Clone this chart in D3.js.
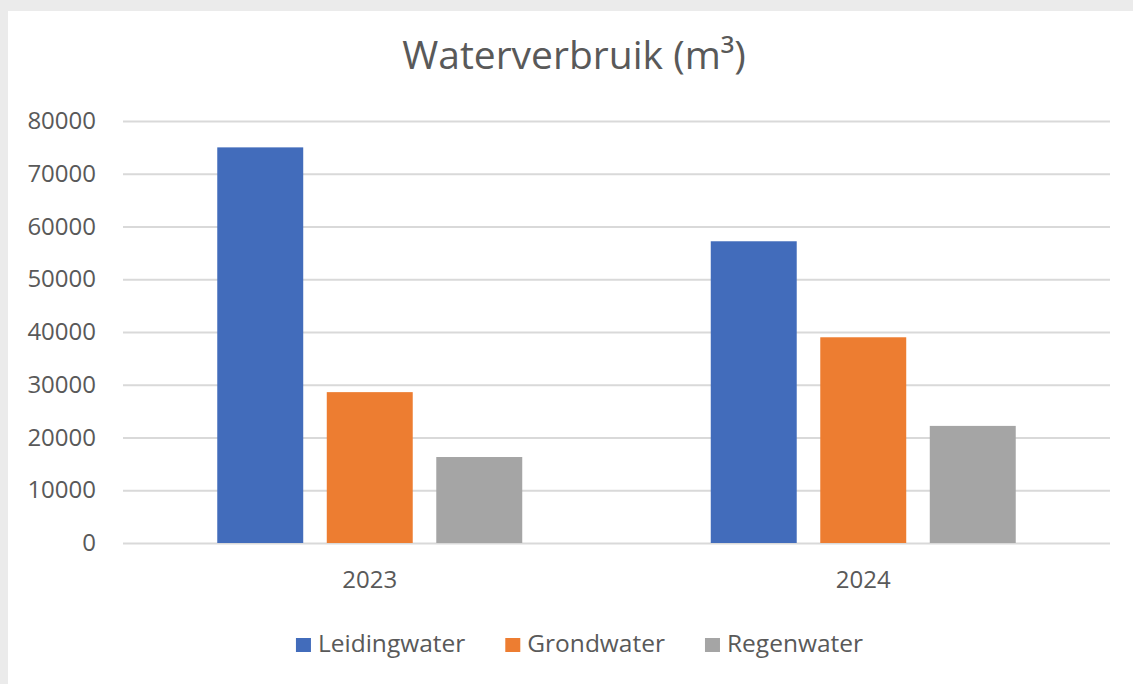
<!DOCTYPE html>
<html>
<head>
<meta charset="utf-8">
<script src="https://cdn.jsdelivr.net/npm/d3@7"></script>
<style>
  body { margin: 0; background: #ebebeb; }
  svg { display: block; }
  text { font-family: "Open Sans", "Noto Sans", sans-serif; fill: #595959; }
</style>
</head>
<body>
<div id="chart"></div>
<script>
const years = ["2023", "2024"];
const series = ["Leidingwater", "Grondwater", "Regenwater"];
const leidingwater = [75000, 57200];
const grondwater = [28600, 39000];
const regenwater = [16300, 22200];
const yTicks = [0, 10000, 20000, 30000, 40000, 50000, 60000, 70000, 80000];

const values = {Leidingwater: leidingwater, Grondwater: grondwater, Regenwater: regenwater};
const data = years.map((yr, i) => ({
  year: yr,
  bars: series.map(s => ({series: s, value: values[s][i]}))
}));

const W = 1133, H = 684;
const plot = {left: 123, right: 1110, top: 121, bottom: 543};

const svg = d3.select("#chart")
  .append("svg")
  .attr("width", W)
  .attr("height", H);

// white panel over the grey frame
svg.append("rect")
  .attr("x", 8).attr("y", 11)
  .attr("width", W - 8).attr("height", H - 11)
  .attr("fill", "#ffffff");

const color = d3.scaleOrdinal()
  .domain(series)
  .range(["#426cbb", "#ed7d31", "#a5a5a5"]);

const x0 = d3.scaleBand().domain(years).range([plot.left, plot.right]).padding(0);
const inset = x0.bandwidth() * 0.191;
const x1 = d3.scaleBand().domain(series)
  .range([inset, x0.bandwidth() - inset])
  .paddingInner(0.215).paddingOuter(0);

const y = d3.scaleLinear().domain([0, 80000]).range([plot.bottom, plot.top]);

// title
svg.append("text")
  .attr("x", 574).attr("y", 69)
  .attr("text-anchor", "middle")
  .style("font-size", "39px")
  .text("Waterverbruik (m³)");

// y axis with gridlines
const yAxis = svg.append("g")
  .attr("transform", `translate(${plot.left},0)`)
  .call(d3.axisLeft(y).tickValues(yTicks).tickFormat(d3.format("d"))
    .tickSize(-(plot.right - plot.left)).tickPadding(27));
yAxis.select(".domain").remove();
yAxis.attr("font-family", null);
yAxis.selectAll(".tick line").attr("stroke", "#d9d9d9").attr("stroke-width", 2);
yAxis.selectAll(".tick text")
  .style("font-size", "24px").attr("fill", "#595959");

// bars
const groups = svg.append("g").selectAll("g")
  .data(data)
  .join("g")
  .attr("transform", d => `translate(${x0(d.year)},0)`);

groups.selectAll("rect")
  .data(d => d.bars)
  .join("rect")
  .attr("x", d => x1(d.series))
  .attr("y", d => y(d.value))
  .attr("width", x1.bandwidth())
  .attr("height", d => y(0) - y(d.value))
  .attr("fill", d => color(d.series));

// x axis labels
const xAxis = svg.append("g")
  .attr("transform", `translate(0,${plot.bottom})`)
  .call(d3.axisBottom(x0).tickSize(0).tickPadding(28));
xAxis.select(".domain").remove();
xAxis.attr("font-family", null);
xAxis.selectAll(".tick text")
  .style("font-size", "24px").attr("fill", "#595959");

// legend
const legend = svg.append("g");
const items = legend.selectAll("g")
  .data(series)
  .join("g");

items.append("rect")
  .attr("width", 15).attr("height", 14)
  .attr("y", -14)
  .attr("fill", d => color(d));

items.append("text")
  .attr("x", 22)
  .style("font-size", "24.5px")
  .text(d => d);

const gap = 40;
let offset = 0;
items.each(function() {
  const w = 22 + d3.select(this).select("text").node().getComputedTextLength();
  d3.select(this).attr("transform", `translate(${offset},652)`);
  offset += w + gap;
});
const total = offset - gap;
legend.attr("transform", `translate(${579.5 - total / 2},0)`);
</script>
</body>
</html>
